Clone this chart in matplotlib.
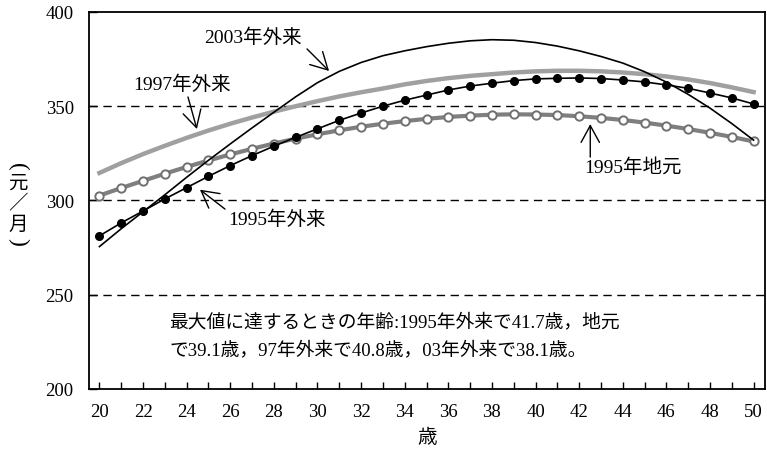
import matplotlib.pyplot as plt
from matplotlib.ticker import MultipleLocator

plt.rcParams['font.family'] = ['Liberation Serif', 'Noto Sans CJK JP']

ages = list(range(20, 51))

migrant_1995 = [281.2, 288.1, 294.4, 300.8, 306.8, 312.8, 318.5, 323.8, 328.8, 333.5,
                338.0, 342.5, 346.4, 350.0, 353.2, 355.9, 358.6, 360.7, 362.2, 363.6,
                364.5, 364.8, 365.0, 364.7, 363.9, 362.9, 361.3, 359.5, 357.0, 354.4, 351.2]
local_1995 = [302.6, 306.6, 310.4, 314.2, 317.8, 321.2, 324.4, 327.4, 330.2, 332.8,
              335.1, 337.2, 339.1, 340.7, 342.1, 343.3, 344.3, 345.0, 345.5, 345.7,
              345.6, 345.3, 344.7, 343.8, 342.7, 341.3, 339.7, 337.9, 335.9, 333.7, 331.3]
migrant_1997 = [314.6, 319.8, 324.6, 329.0, 333.2, 337.1, 340.7, 344.0, 347.1, 350.0,
                352.7, 355.2, 357.4, 359.4, 361.6, 363.4, 364.9, 366.1, 367.0, 367.9,
                368.5, 368.8, 368.8, 368.5, 367.9, 367.0, 365.8, 364.2, 362.3, 360.0, 357.5]
migrant_2003 = [275.5, 285.0, 294.0, 303.0, 312.3, 321.3, 330.0, 338.5, 346.8, 355.0,
                362.5, 368.5, 373.2, 376.8, 379.4, 381.6, 383.4, 384.7, 385.3, 385.0,
                383.8, 381.9, 379.4, 376.4, 372.9, 368.3, 362.8, 356.3, 349.0, 340.8, 332.0]

note = '最大値に達するときの年齢:1995年外来で41.7歳，地元\nで39.1歳，97年外来で40.8歳，03年外来で38.1歳。'

fig = plt.figure(figsize=(7.67, 4.56), dpi=100)
ax = fig.add_axes([0.116, 0.145, 0.881, 0.8265])

for y in [250, 300, 350]:
    ax.axhline(y, color='black', lw=1.0, ls=(0, (6, 4)), zorder=1)

ax.plot(ages, migrant_1997, color='#a0a0a0', lw=3.2, zorder=2)
ax.plot(ages, local_1995, color='#7f7f7f', lw=3.0, marker='o', ms=6,
        mfc='white', mec='#707070', mew=1.4, zorder=3)
ax.plot(ages, migrant_1995, color='black', lw=1.2, marker='o', ms=5.5, zorder=4)
ax.plot(ages, migrant_2003, color='black', lw=1.2, zorder=5)

arrow = dict(arrowstyle='->,head_length=0.55,head_width=0.3', color='black', lw=1.0,
             mutation_scale=22, shrinkA=0, shrinkB=0)
ax.annotate('', xy=(30.53, 368.7), xytext=(29.52, 380.4), arrowprops=arrow)
ax.annotate('', xy=(24.47, 337.9), xytext=(24.06, 354.9), arrowprops=arrow)
ax.annotate('', xy=(24.61, 305.7), xytext=(25.76, 295.4), arrowprops=arrow)
ax.annotate('', xy=(42.51, 340.5), xytext=(42.51, 323.0), arrowprops=arrow)

ax.text(27.02, 386.6, '2003年外来', fontsize=14, ha='center', va='center')
ax.text(23.79, 361.8, '1997年外来', fontsize=14, ha='center', va='center')
ax.text(28.15, 290.1, '1995年外来', fontsize=14, ha='center', va='center')
ax.text(44.48, 317.7, '1995年地元', fontsize=14, ha='center', va='center')
ax.text(23.2, 228.5, note, fontsize=13.5, ha='left', va='center', linespacing=1.75)

ax.set_xlim(19.52, 50.51)
ax.set_ylim(200, 400)
ax.xaxis.set_major_locator(MultipleLocator(2))
ax.xaxis.set_minor_locator(MultipleLocator(1))
ax.set_yticks([200, 250, 300, 350, 400])
ax.tick_params(axis='x', which='both', direction='in', length=5, width=1, pad=10, labelsize=13.5)
ax.tick_params(axis='y', direction='in', length=6, width=1, pad=11, labelsize=13.5)
for s in ax.spines.values():
    s.set_linewidth(1.3)

ax.set_xlabel('歳', fontsize=14, labelpad=6)
# vertical y label: (元／月) stacked, parentheses turned sideways
fig.text(18 / 767, 1 - 167 / 456, '(', fontsize=17, ha='center', va='center', rotation=-90)
fig.text(18 / 767, 1 - 184 / 456, '元', fontsize=14, ha='center', va='center')
fig.text(18 / 767, 1 - 204 / 456, '／', fontsize=14, ha='center', va='center')
fig.text(18 / 767, 1 - 225 / 456, '月', fontsize=14, ha='center', va='center')
fig.text(18 / 767, 1 - 242 / 456, ')', fontsize=17, ha='center', va='center', rotation=-90)

fig.savefig('out.png', dpi=100)
